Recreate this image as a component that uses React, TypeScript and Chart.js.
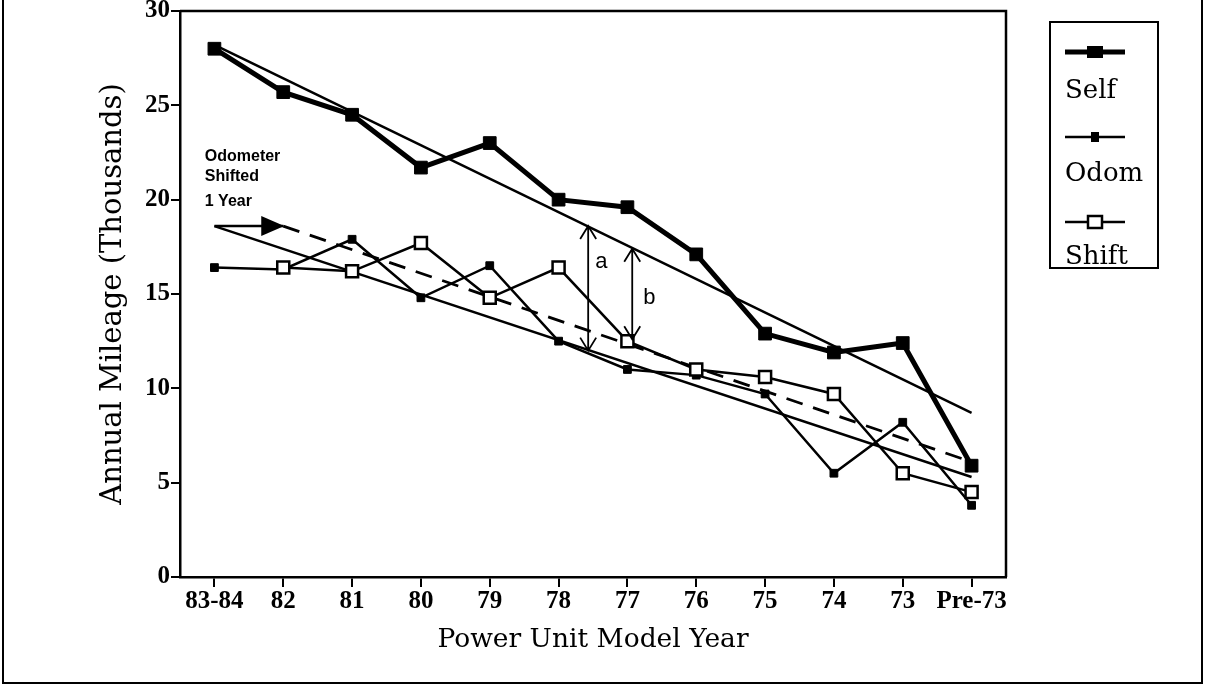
import React, { useEffect, useRef } from "react";
import { Chart, registerables } from "chart.js";

Chart.register(...registerables);

// ---------- data ----------
const categories = ["83-84", "82", "81", "80", "79", "78", "77", "76", "75", "74", "73", "Pre-73"];
const selfValues = [28.0, 25.7, 24.5, 21.7, 23.0, 20.0, 19.6, 17.1, 12.9, 11.9, 12.4, 5.9];
const odomValues = [16.4, 16.3, 17.9, 14.8, 16.5, 12.5, 11.0, 10.7, 9.7, 5.5, 8.2, 3.8];
const shiftValues = [null, 16.4, 16.2, 17.7, 14.8, 16.4, 12.5, 11.0, 10.6, 9.7, 5.5, 4.5];
const selfTrend = [28.2, null, null, null, null, null, null, null, null, null, null, 8.7];
const odomTrend = [18.6, null, null, null, null, null, null, null, null, null, null, 5.3];
const shiftTrend = [null, 18.6, null, null, null, null, null, null, null, null, null, 6.1];
const shiftArrow = [18.6, 18.6, null, null, null, null, null, null, null, null, null, null];
const yMin = 0;
const yMax = 30;
const yStep = 5;
const noteLines = ["Odometer", "Shifted", "1 Year"];
const noteValues = [22.3, 21.2, 19.9];
const noteIndex = -0.14;
const gapLabels = ["a", "b"];
const gapIndex = [5.43, 6.07];
const gapFrom = [12.0, 12.6];
const gapTo = [18.6, 17.4];
const gapLabelIndex = [5.62, 6.32];
const gapLabelValue = [16.7, 14.8];
const legendLabels = ["Self", "Odom", "Shift"];

const SERIF = "'DejaVu Serif', serif";
const TICK_FONT = "'Liberation Serif', 'Times New Roman', serif";

const overlayPlugin = {
  id: "overlay",
  beforeDatasetsDraw(chart: any) {
    const { ctx, chartArea } = chart;
    ctx.save();
    ctx.strokeStyle = "#000";
    ctx.lineWidth = 2.5;
    ctx.beginPath();
    ctx.moveTo(chartArea.left, chartArea.top);
    ctx.lineTo(chartArea.right, chartArea.top);
    ctx.lineTo(chartArea.right, chartArea.bottom);
    ctx.stroke();
    ctx.restore();
  },
  afterDatasetsDraw(chart: any) {
    const { ctx, scales } = chart;
    const xs = scales.x;
    const ys = scales.y;
    const xAt = (i: number) => {
      const x0 = xs.getPixelForValue(0);
      const x1 = xs.getPixelForValue(1);
      return x0 + (x1 - x0) * i;
    };
    ctx.save();
    ctx.fillStyle = "#000";
    ctx.strokeStyle = "#000";

    // filled arrowhead at end of the shift arrow
    const tipX = xs.getPixelForValue(1);
    const tipY = ys.getPixelForValue(shiftArrow[1] as number);
    ctx.beginPath();
    ctx.moveTo(tipX + 1, tipY);
    ctx.lineTo(tipX - 22, tipY - 10);
    ctx.lineTo(tipX - 22, tipY + 10);
    ctx.closePath();
    ctx.fill();

    // note text
    ctx.font = "bold 16px 'Liberation Sans', Arial, sans-serif";
    ctx.textAlign = "left";
    ctx.textBaseline = "middle";
    noteLines.forEach((t, i) => {
      ctx.fillText(t, xAt(noteIndex), ys.getPixelForValue(noteValues[i]));
    });

    // gap arrows a and b
    ctx.lineWidth = 1.8;
    gapLabels.forEach((lab, i) => {
      const x = xAt(gapIndex[i]);
      const yTop = ys.getPixelForValue(gapTo[i]);
      const yBot = ys.getPixelForValue(gapFrom[i]);
      ctx.beginPath();
      ctx.moveTo(x, yTop);
      ctx.lineTo(x, yBot);
      ctx.moveTo(x - 8, yTop + 13);
      ctx.lineTo(x, yTop);
      ctx.lineTo(x + 8, yTop + 13);
      ctx.moveTo(x - 8, yBot - 13);
      ctx.lineTo(x, yBot);
      ctx.lineTo(x + 8, yBot - 13);
      ctx.stroke();
      ctx.font = "22px 'Liberation Sans', Arial, sans-serif";
      ctx.textAlign = "center";
      ctx.fillText(lab, xAt(gapLabelIndex[i]), ys.getPixelForValue(gapLabelValue[i]));
    });
    ctx.restore();
  },
  afterDraw(chart: any) {
    const { ctx, chartArea, width, height } = chart;
    ctx.save();
    ctx.strokeStyle = "#000";
    ctx.fillStyle = "#000";
    // outer frame
    ctx.lineWidth = 2;
    ctx.beginPath();
    ctx.moveTo(3, 0);
    ctx.lineTo(3, height - 3);
    ctx.lineTo(width - 3, height - 3);
    ctx.lineTo(width - 3, 0);
    ctx.stroke();

    // legend
    const lx = chartArea.right + 44;
    const ly = 22;
    ctx.lineWidth = 2;
    ctx.strokeRect(lx, ly, 108, 246);
    const sx0 = lx + 15;
    const sx1 = lx + 75;
    const sc = (sx0 + sx1) / 2;
    legendLabels.forEach((lab, i) => {
      const lineY = ly + 30 + i * 85;
      const textY = ly + 69 + i * 83;
      ctx.beginPath();
      ctx.lineWidth = i === 0 ? 5 : 2.5;
      ctx.moveTo(sx0, lineY);
      ctx.lineTo(sx1, lineY);
      ctx.stroke();
      if (i === 0) {
        ctx.fillRect(sc - 8, lineY - 6, 16, 12);
      } else if (i === 1) {
        ctx.fillRect(sc - 4, lineY - 5, 8, 10);
      } else {
        ctx.fillStyle = "#fff";
        ctx.fillRect(sc - 7, lineY - 6, 14, 12);
        ctx.fillStyle = "#000";
        ctx.lineWidth = 2.5;
        ctx.strokeRect(sc - 7, lineY - 6, 14, 12);
      }
      ctx.font = "26px " + SERIF;
      ctx.textAlign = "left";
      ctx.textBaseline = "middle";
      ctx.fillText(lab, sx0, textY);
    });
    ctx.restore();
  },
};

export default function App() {
  const ref = useRef<HTMLCanvasElement | null>(null);
  useEffect(() => {
    if (!ref.current) return;
    const chart = new Chart(ref.current, {
      type: "line",
      data: {
        labels: categories,
        datasets: [
          {
            label: "Self",
            data: selfValues,
            borderColor: "#000",
            backgroundColor: "#000",
            borderWidth: 5,
            pointStyle: "rect",
            pointRadius: 9,
            pointBorderWidth: 1,
            pointBackgroundColor: "#000",
            pointBorderColor: "#000",
            tension: 0,
            order: 0,
          },
          {
            label: "Shift",
            data: shiftValues,
            borderColor: "#000",
            borderWidth: 2.5,
            pointStyle: "rect",
            pointRadius: 8.5,
            pointBorderWidth: 2.5,
            pointBackgroundColor: "#fff",
            pointBorderColor: "#000",
            tension: 0,
            spanGaps: false,
            order: 1,
          },
          {
            label: "Odom",
            data: odomValues,
            borderColor: "#000",
            borderWidth: 2.5,
            pointStyle: "rect",
            pointRadius: 5.5,
            pointBorderWidth: 1,
            pointBackgroundColor: "#000",
            pointBorderColor: "#000",
            tension: 0,
            order: 2,
          },
          {
            label: "Self trend",
            data: selfTrend,
            borderColor: "#000",
            borderWidth: 2.5,
            pointRadius: 0,
            spanGaps: true,
            order: 3,
          },
          {
            label: "Odom trend",
            data: odomTrend,
            borderColor: "#000",
            borderWidth: 2.5,
            pointRadius: 0,
            spanGaps: true,
            order: 4,
          },
          {
            label: "Shift trend",
            data: shiftTrend,
            borderColor: "#000",
            borderWidth: 2.8,
            borderDash: [17, 11],
            pointRadius: 0,
            spanGaps: true,
            order: 5,
          },
          {
            label: "Shift arrow",
            data: shiftArrow,
            borderColor: "#000",
            borderWidth: 2.5,
            pointRadius: 0,
            order: 6,
          },
        ],
      },
      options: {
        animation: false,
        responsive: false,
        devicePixelRatio: 1,
        layout: { padding: { top: 11, right: 199, left: 0, bottom: 0 } },
        plugins: {
          legend: { display: false },
          tooltip: { enabled: false },
          title: { display: false },
        },
        scales: {
          x: {
            type: "category",
            offset: true,
            grid: {
              display: true,
              drawOnChartArea: false,
              drawTicks: true,
              tickLength: 10,
              color: "#000",
              lineWidth: 2,
            },
            border: { display: true, color: "#000", width: 2.5 },
            ticks: {
              color: "#000",
              padding: 2,
              maxRotation: 0,
              autoSkip: false,
              font: { family: TICK_FONT, size: 25, weight: "bold", lineHeight: 1 },
            },
            title: {
              display: true,
              text: "Power Unit Model Year",
              color: "#000",
              font: { family: SERIF, size: 26.5, lineHeight: 1.2 },
              padding: { top: 0, bottom: 30 },
            },
            afterFit(scale: any) {
              scale.height = 109;
              scale.paddingLeft = 0;
              scale.paddingRight = 0;
            },
          },
          y: {
            min: yMin,
            max: yMax,
            grid: {
              display: true,
              drawOnChartArea: false,
              drawTicks: true,
              tickLength: 9,
              color: "#000",
              lineWidth: 2,
            },
            border: { display: true, color: "#000", width: 2.5 },
            ticks: {
              stepSize: yStep,
              color: "#000",
              padding: 1,
              font: { family: TICK_FONT, size: 25, weight: "bold", lineHeight: 1 },
            },
            title: {
              display: true,
              text: "Annual Mileage (Thousands)",
              color: "#000",
              font: { family: SERIF, size: 29, lineHeight: 1.2 },
              padding: { top: 96, bottom: 0 },
            },
            afterFit(scale: any) {
              scale.width = 180;
              scale.paddingTop = 0;
              scale.paddingBottom = 0;
            },
          },
        },
      },
      plugins: [overlayPlugin],
    });
    return () => chart.destroy();
  }, []);
  return (
    <div style={{ position: "absolute", left: 0, top: 0, width: 1205, height: 686, background: "#fff" }}>
      <canvas ref={ref} width={1205} height={686} />
    </div>
  );
}
